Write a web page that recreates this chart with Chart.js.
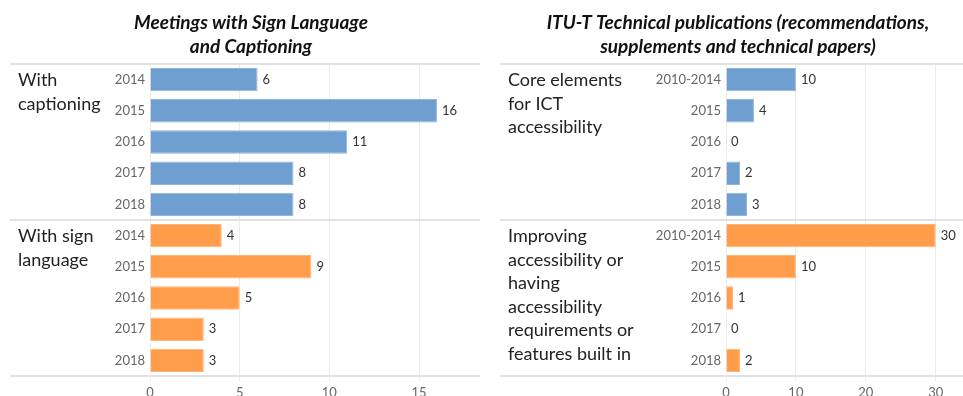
<!DOCTYPE html>
<html>
<head>
<meta charset="utf-8">
<script src="https://cdn.jsdelivr.net/npm/chart.js@4"></script>
<style>
  body { margin: 0; background: #fff; }
  #wrap { position: relative; width: 963px; height: 396px; overflow: hidden; }
  canvas { position: absolute; top: 0; }
</style>
</head>
<body>
<div id="wrap">
  <canvas id="meetings" width="480" height="396" style="left:0"></canvas>
  <canvas id="publications" width="483" height="396" style="left:480px"></canvas>
</div>
<script>
// Meetings panel
const meetingYears = ['2014', '2015', '2016', '2017', '2018'];
const captioningValues = [6, 16, 11, 8, 8];
const signLanguageValues = [4, 9, 5, 3, 3];
const meetingTicks = [0, 5, 10, 15];
const meetingTitle = ['Meetings with Sign Language', 'and Captioning'];
const meetingGroups = [['With', 'captioning'], ['With sign', 'language']];

// ITU-T publications panel
const publicationPeriods = ['2010-2014', '2015', '2016', '2017', '2018'];
const coreElementsValues = [10, 4, 0, 2, 3];
const improvingValues = [30, 10, 1, 0, 2];
const publicationTicks = [0, 10, 20, 30];
const publicationTitle = ['ITU-T Technical publications (recommendations,', 'supplements and technical papers)'];
const publicationGroups = [
  ['Core elements', 'for ICT', 'accessibility'],
  ['Improving', 'accessibility or', 'having', 'accessibility', 'requirements or', 'features built in'],
];

const BLUE = '#6f9fd0';
const ORANGE = '#ff9d4a';
const FONT = 'Lato, "Open Sans", sans-serif';

// draws titles, group separators, group names and value labels
const panelDecor = {
  id: 'panelDecor',
  beforeDatasetsDraw(chart, args, opts) {
    const ctx = chart.ctx;
    const area = chart.chartArea;
    const mid = (area.top + area.bottom) / 2;
    ctx.save();
    ctx.strokeStyle = '#e2e2e2';
    ctx.lineWidth = 2;
    [area.top, mid, area.bottom].forEach(y => {
      ctx.beginPath();
      ctx.moveTo(opts.lineStart, y);
      ctx.lineTo(chart.width, y);
      ctx.stroke();
    });
    ctx.restore();
  },
  afterDatasetsDraw(chart, args, opts) {
    const ctx = chart.ctx;
    const yScale = chart.scales.y;
    ctx.save();

    // title
    ctx.fillStyle = '#111';
    ctx.font = 'italic bold 19px ' + FONT;
    ctx.textAlign = 'center';
    ctx.textBaseline = 'middle';
    opts.title.forEach((line, i) => ctx.fillText(line, opts.titleX, 23 + i * 24));

    // group names, first line level with first bar of the group
    ctx.fillStyle = '#222';
    ctx.font = '18px ' + FONT;
    ctx.textAlign = 'left';
    opts.groups.forEach((lines, g) => {
      const y0 = yScale.getPixelForValue(g * 5) + 1;
      lines.forEach((line, i) => ctx.fillText(line, opts.groupX, y0 + i * 23.5));
    });

    // value labels
    ctx.fillStyle = '#333';
    ctx.font = '13px ' + FONT;
    const meta = chart.getDatasetMeta(0);
    const values = chart.data.datasets[0].data;
    meta.data.forEach((bar, i) => {
      ctx.fillText(String(values[i]), bar.x + 5, bar.y);
    });
    ctx.restore();
  }
};

function makePanel(canvasId, cats, first, second, ticks, max, axisLeft, title, titleX, groups, groupX, lineStart) {
  const labels = cats.concat(cats);
  const colors = cats.map(() => BLUE).concat(cats.map(() => ORANGE));
  const borders = cats.map(() => '#8fb5de').concat(cats.map(() => '#ffb577'));
  return new Chart(document.getElementById(canvasId), {
    type: 'bar',
    data: {
      labels: labels,
      datasets: [{
        data: first.concat(second),
        backgroundColor: colors,
        borderColor: borders,
        borderWidth: 1,
        barPercentage: 0.75,
        categoryPercentage: 1,
      }],
    },
    options: {
      indexAxis: 'y',
      responsive: false,
      animation: false,
      layout: { padding: { top: 64, bottom: 0, left: 0, right: 0 } },
      plugins: {
        legend: { display: false },
        tooltip: { enabled: false },
        panelDecor: { title: title, titleX: titleX, groups: groups, groupX: groupX, lineStart: lineStart },
      },
      scales: {
        x: {
          min: 0,
          max: max,
          afterBuildTicks: scale => { scale.ticks = ticks.map(v => ({ value: v })); },
          afterFit: scale => { scale.height = 20; },
          border: { display: false },
          grid: { color: '#ebebeb', tickLength: 5, drawTicks: true },
          ticks: { color: '#666', padding: 4, font: { family: FONT, size: 13 } },
        },
        y: {
          afterFit: scale => { scale.width = axisLeft; },
          border: { display: false },
          grid: { display: false, drawTicks: false },
          ticks: { color: '#666', padding: 5, autoSkip: false, font: { family: FONT, size: 13 } },
        },
      },
    },
    plugins: [panelDecor],
  });
}

makePanel('meetings', meetingYears, captioningValues, signLanguageValues, meetingTicks, 18.4, 150,
  meetingTitle, 251, meetingGroups, 18, 10);
makePanel('publications', publicationPeriods, coreElementsValues, improvingValues, publicationTicks, 33.9, 246,
  publicationTitle, 258, publicationGroups, 28, 20);
</script>
</body>
</html>
